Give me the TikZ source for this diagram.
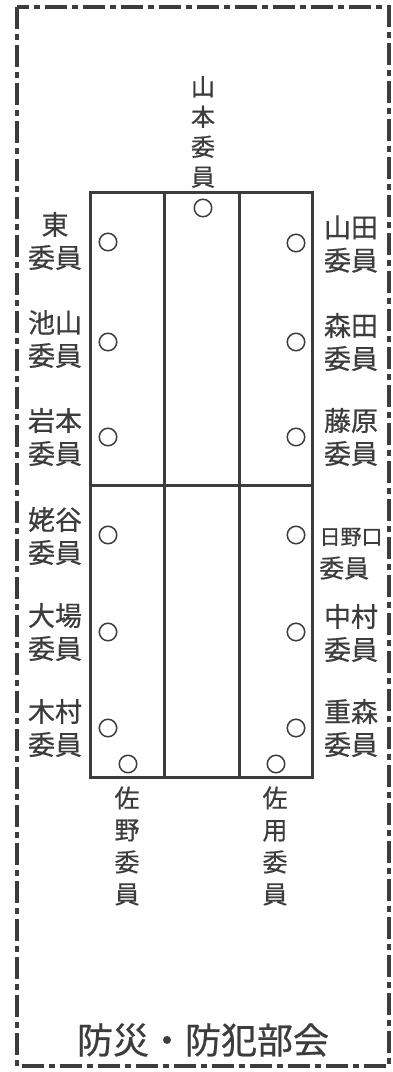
\documentclass[tikz,border=0pt]{standalone}
\usepackage{fontspec}
\setmainfont{Noto Sans CJK JP}[FakeBold=0.6]
\definecolor{ink}{HTML}{3C3C3C}
\tikzset{
  frameline/.style={draw=ink, line width=4.5pt, dash pattern=on 22pt off 5pt on 6pt off 5pt},
  tableline/.style={draw=ink, line width=3pt},
  seat/.style={circle, draw=ink, line width=1.5pt, minimum size=17.5pt, inner sep=0pt},
  namelbl/.style={text=ink, font=\fontsize{27}{33}\selectfont, align=center, inner sep=0pt},
  vlbl/.style={text=ink, font=\fontsize{25}{32}\selectfont, align=center, inner sep=0pt},
  titlelbl/.style={text=ink, font=\fontsize{36}{40}\selectfont, inner sep=0pt}
}
\begin{document}
\begin{tikzpicture}[x=1pt,y=-1pt]
\useasboundingbox (0,0) rectangle (392,1072);
% frame
\draw[frameline] (17,7) rectangle (389,1066);
% table
\coordinate (tl) at (90,192);
\coordinate (br) at (312,777);
\draw[tableline] (tl) rectangle (br);
\coordinate (v1t) at (164,192); \coordinate (v1b) at (164,777);
\coordinate (v2t) at (239,192); \coordinate (v2b) at (239,777);
\coordinate (hl) at (90,485); \coordinate (hr) at (312,485);
\draw[tableline] (v1t) -- (v1b);
\draw[tableline] (v2t) -- (v2b);
\draw[tableline] (hl) -- (hr);
% seats
\node[seat] (s0) at (203,208) {};
\node[seat] (l1) at (108,242) {};
\node[seat] (l2) at (108,342) {};
\node[seat] (l3) at (108,437) {};
\node[seat] (l4) at (108,535) {};
\node[seat] (l5) at (108,632) {};
\node[seat] (l6) at (108,728) {};
\node[seat] (lb) at (128,764) {};
\node[seat] (r1) at (296,243) {};
\node[seat] (r2) at (296,342) {};
\node[seat] (r3) at (296,437) {};
\node[seat] (r4) at (296,535) {};
\node[seat] (r5) at (296,632) {};
\node[seat] (r6) at (296,728) {};
\node[seat] (rb) at (276,764) {};
% top label
\node[vlbl, font=\fontsize{24}{30}\selectfont] (ttop) at (203,132) {山\\本\\委\\員};
% left labels
\node[namelbl] (nl1) at (55,241) {東\\委員};
\node[namelbl] (nl2) at (55,339) {池山\\委員};
\node[namelbl] (nl3) at (55,437) {岩本\\委員};
\node[namelbl] (nl4) at (55,536) {姥谷\\委員};
\node[namelbl] (nl5) at (55,632) {大場\\委員};
\node[namelbl] (nl6) at (55,728) {木村\\委員};
% right labels
\node[namelbl] (nr1) at (351,244) {山田\\委員};
\node[namelbl] (nr2) at (351,342) {森田\\委員};
\node[namelbl] (nr3) at (351,437) {藤原\\委員};
\node[text=ink, font=\fontsize{21}{21}\selectfont, inner sep=0pt] (nr4a) at (351,537) {日野口};
\node[text=ink, font=\fontsize{25}{25}\selectfont, inner sep=0pt, anchor=west] (nr4b) at (319,568) {委員};
\node[namelbl] (nr5) at (351,633) {中村\\委員};
\node[namelbl] (nr6) at (351,728) {重森\\委員};
% bottom labels
\node[vlbl] (nb1) at (127,846) {佐\\野\\委\\員};
\node[vlbl] (nb2) at (275,846) {佐\\用\\委\\員};
% title
\node[titlelbl] (title) at (203,1040) {防災・防犯部会};
\end{tikzpicture}
\end{document}
